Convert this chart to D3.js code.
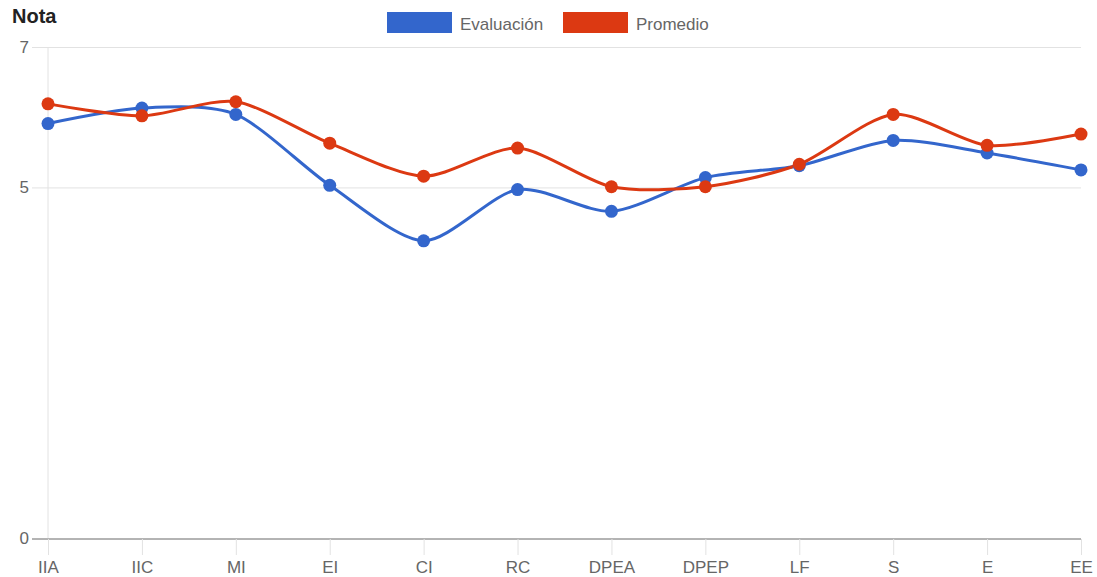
<!DOCTYPE html>
<html>
<head>
<meta charset="utf-8">
<script src="https://cdn.jsdelivr.net/npm/d3@7"></script>
<style>
  html, body { margin: 0; padding: 0; background: #fff; }
  svg { display: block; font-family: "Liberation Sans", Arial, Helvetica, sans-serif; }
</style>
</head>
<body>
<svg id="chart" width="1097" height="577"></svg>
<script>
const categories = ["IIA", "IIC", "MI", "EI", "CI", "RC", "DPEA", "DPEP", "LF", "S", "E", "EE"];
const evaluacion = [5.91, 6.13, 6.04, 5.03, 4.24, 4.97, 4.66, 5.14, 5.31, 5.67, 5.49, 5.25];
const promedio   = [6.19, 6.02, 6.22, 5.63, 5.16, 5.56, 5.01, 5.01, 5.33, 6.04, 5.60, 5.76];
const yTicks = [0, 5, 7];
const seriesNames = ["Evaluación", "Promedio"];
const seriesColors = ["#3366cc", "#dc3912"];
const yTitle = "Nota";

const svg = d3.select("#chart");
const plotLeft = 48, plotRight = 1081, plotTop = 47, plotBottom = 538.5;

const x = d3.scalePoint().domain(categories).range([plotLeft, plotRight]);
const y = d3.scaleLinear().domain([0, 7]).range([plotBottom, plotTop]);

// horizontal gridlines + y labels
const ext = plotRight - plotLeft + 16;
const yAxis = d3.axisLeft(y).tickValues(yTicks).tickSize(ext).tickPadding(3).tickFormat(d3.format("d"));
const gy = svg.append("g").attr("transform", `translate(${plotRight},0)`).call(yAxis);
gy.select(".domain").remove();
gy.selectAll(".tick line").attr("stroke", d => d === 0 ? "#9a9a9a" : "#e2e2e2").attr("stroke-width", 1);
gy.selectAll(".tick text").attr("fill", "#666").style("font-size", "17px").attr("x", -ext - 3);

// vertical axis line
svg.append("line").attr("x1", plotLeft).attr("x2", plotLeft).attr("y1", plotTop).attr("y2", plotBottom)
  .attr("stroke", "#e2e2e2");
// baseline on top
svg.append("line").attr("x1", plotLeft - 16).attr("x2", plotRight).attr("y1", y(0) + 0.5).attr("y2", y(0) + 0.5)
  .attr("stroke", "#9a9a9a");

// x axis
const xAxis = d3.axisBottom(x).tickSize(16).tickPadding(6);
const gx = svg.append("g").attr("transform", `translate(0,${y(0) + 0.5})`).call(xAxis);
gx.select(".domain").remove();
gx.selectAll(".tick line").attr("stroke", "#e2e2e2");
gx.selectAll(".tick text").attr("fill", "#666").style("font-size", "17px");

// title
svg.append("text").attr("x", 12).attr("y", 23).text(yTitle)
  .style("font-size", "20px").style("font-weight", "bold").attr("fill", "#222");

// legend
const legendX = [387, 563];
seriesNames.forEach((name, i) => {
  svg.append("rect").attr("x", legendX[i]).attr("y", 12).attr("width", 65).attr("height", 21)
    .attr("fill", seriesColors[i]);
  svg.append("text").attr("x", legendX[i] + 73).attr("y", 30).text(name)
    .style("font-size", "17px").attr("fill", "#666");
});

// lines
const line = d3.line().x((d, i) => x(categories[i])).y(d => y(d)).curve(d3.curveCardinal.tension(0.2));
[evaluacion, promedio].forEach((data, s) => {
  svg.append("path").datum(data).attr("d", line).attr("fill", "none")
    .attr("stroke", seriesColors[s]).attr("stroke-width", 3);
});
[evaluacion, promedio].forEach((data, s) => {
  svg.append("g").selectAll("circle").data(data).join("circle")
    .attr("cx", (d, i) => x(categories[i])).attr("cy", d => y(d)).attr("r", 6.5)
    .attr("fill", seriesColors[s]);
});
</script>
</body>
</html>
